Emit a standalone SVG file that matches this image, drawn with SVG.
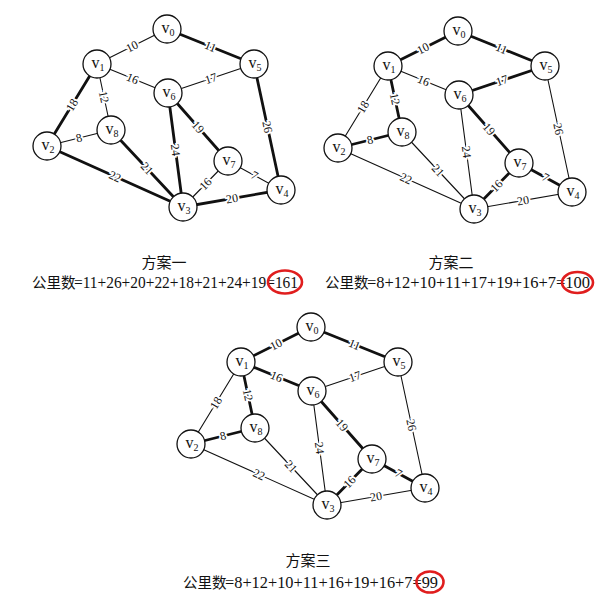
<svg xmlns="http://www.w3.org/2000/svg" width="608" height="602" viewBox="0 0 608 602">
<style>
.bg{fill:#fff}
.e{stroke:#111;fill:none;stroke-linecap:round}
.thin{stroke-width:1.1}
.thick{stroke-width:2.8}
.el{font-family:"Liberation Serif",serif;font-size:12px;fill:#111;stroke:#fff;stroke-width:3.5;paint-order:stroke;text-anchor:middle;dominant-baseline:central}
.node circle{fill:#fff;stroke:#111;stroke-width:1.3}
.node text{font-family:"Liberation Serif",serif;font-size:16px;fill:#111;text-anchor:middle}
.sub{font-size:10px}
.cap{font-family:"Liberation Serif","Noto Sans CJK SC",serif;fill:#111}
.t1{font-size:15px;text-anchor:middle}
.cj{font-size:14.5px}
.t2{font-size:16px}
.ring{fill:none;stroke:#e01e1e;stroke-width:2.6}
</style>
<rect class="bg" x="0" y="0" width="608" height="602"/>

<!-- ===== Graph 1 ===== -->
<g id="graph1">
<g id="g1-edges">
<line class="e thin" x1="167" y1="29" x2="97" y2="64"/>
<line class="e thick" x1="167" y1="29" x2="254" y2="64"/>
<line class="e thin" x1="97" y1="64" x2="168" y2="93"/>
<line class="e thin" x1="168" y1="93" x2="254" y2="64"/>
<line class="e thick" x1="97" y1="64" x2="47" y2="146"/>
<line class="e thin" x1="97" y1="64" x2="111" y2="130"/>
<line class="e thin" x1="47" y1="146" x2="111" y2="130"/>
<line class="e thick" x1="47" y1="146" x2="183" y2="207"/>
<line class="e thick" x1="111" y1="130" x2="183" y2="207"/>
<line class="e thick" x1="168" y1="93" x2="183" y2="207"/>
<line class="e thick" x1="168" y1="93" x2="228" y2="161"/>
<line class="e thick" x1="254" y1="64" x2="281" y2="190"/>
<line class="e thin" x1="228" y1="161" x2="281" y2="190"/>
<line class="e thin" x1="228" y1="161" x2="183" y2="207"/>
<line class="e thick" x1="183" y1="207" x2="281" y2="190"/>
<text class="el" transform="translate(132,46.5) rotate(-26.6)">10</text>
<text class="el" transform="translate(210.5,46.5) rotate(21.9)">11</text>
<text class="el" transform="translate(132.5,78.5) rotate(22.2)">16</text>
<text class="el" transform="translate(211,78.5) rotate(-18.6)">17</text>
<text class="el" transform="translate(72,105) rotate(-58.6)">18</text>
<text class="el" transform="translate(104,97) rotate(78)">12</text>
<text class="el" transform="translate(79,138) rotate(-14)">8</text>
<text class="el" transform="translate(115,176.5) rotate(24.2)">22</text>
<text class="el" transform="translate(147,168.5) rotate(46.9)">21</text>
<text class="el" transform="translate(175.5,150) rotate(82.5)">24</text>
<text class="el" transform="translate(198,127) rotate(48.6)">19</text>
<text class="el" transform="translate(267.5,127) rotate(77.9)">26</text>
<text class="el" transform="translate(254.5,175.5) rotate(28.7)">7</text>
<text class="el" transform="translate(205.5,184) rotate(-45.6)">16</text>
<text class="el" transform="translate(232,198.5) rotate(-9.8)">20</text>
</g>
<g id="g1-v0" class="node"><circle cx="167" cy="29" r="14"/><text x="168" y="33">v<tspan class="sub" dy="2.5">0</tspan></text></g>
<g id="g1-v1" class="node"><circle cx="97" cy="64" r="14"/><text x="98" y="68">v<tspan class="sub" dy="2.5">1</tspan></text></g>
<g id="g1-v5" class="node"><circle cx="254" cy="64" r="14"/><text x="255" y="68">v<tspan class="sub" dy="2.5">5</tspan></text></g>
<g id="g1-v6" class="node"><circle cx="168" cy="93" r="14"/><text x="169" y="97">v<tspan class="sub" dy="2.5">6</tspan></text></g>
<g id="g1-v8" class="node"><circle cx="111" cy="130" r="14"/><text x="112" y="134">v<tspan class="sub" dy="2.5">8</tspan></text></g>
<g id="g1-v2" class="node"><circle cx="47" cy="146" r="14"/><text x="48" y="150">v<tspan class="sub" dy="2.5">2</tspan></text></g>
<g id="g1-v7" class="node"><circle cx="228" cy="161" r="14"/><text x="229" y="165">v<tspan class="sub" dy="2.5">7</tspan></text></g>
<g id="g1-v4" class="node"><circle cx="281" cy="190" r="14"/><text x="282" y="194">v<tspan class="sub" dy="2.5">4</tspan></text></g>
<g id="g1-v3" class="node"><circle cx="183" cy="207" r="14"/><text x="184" y="211">v<tspan class="sub" dy="2.5">3</tspan></text></g>
<text class="cap t1" x="164" y="268">方案一</text>
<text class="cap cj" x="32" y="288">公里数</text>
<text class="cap t2" x="74" y="288" textLength="224" lengthAdjust="spacingAndGlyphs">=11+26+20+22+18+21+24+19=161</text>
<ellipse class="ring" cx="285" cy="282" rx="17" ry="11.5"/>
</g>

<!-- ===== Graph 2 ===== -->
<g id="graph2" transform="translate(291,2)">
<g id="g2-edges">
<line class="e thick" x1="167" y1="29" x2="97" y2="64"/>
<line class="e thick" x1="167" y1="29" x2="254" y2="64"/>
<line class="e thin" x1="97" y1="64" x2="168" y2="93"/>
<line class="e thick" x1="168" y1="93" x2="254" y2="64"/>
<line class="e thin" x1="97" y1="64" x2="47" y2="146"/>
<line class="e thick" x1="97" y1="64" x2="111" y2="130"/>
<line class="e thick" x1="47" y1="146" x2="111" y2="130"/>
<line class="e thin" x1="47" y1="146" x2="183" y2="207"/>
<line class="e thin" x1="111" y1="130" x2="183" y2="207"/>
<line class="e thin" x1="168" y1="93" x2="183" y2="207"/>
<line class="e thick" x1="168" y1="93" x2="228" y2="161"/>
<line class="e thin" x1="254" y1="64" x2="281" y2="190"/>
<line class="e thick" x1="228" y1="161" x2="281" y2="190"/>
<line class="e thick" x1="228" y1="161" x2="183" y2="207"/>
<line class="e thin" x1="183" y1="207" x2="281" y2="190"/>
<text class="el" transform="translate(132,46.5) rotate(-26.6)">10</text>
<text class="el" transform="translate(210.5,46.5) rotate(21.9)">11</text>
<text class="el" transform="translate(132.5,78.5) rotate(22.2)">16</text>
<text class="el" transform="translate(211,78.5) rotate(-18.6)">17</text>
<text class="el" transform="translate(72,105) rotate(-58.6)">18</text>
<text class="el" transform="translate(104,97) rotate(78)">12</text>
<text class="el" transform="translate(79,138) rotate(-14)">8</text>
<text class="el" transform="translate(115,176.5) rotate(24.2)">22</text>
<text class="el" transform="translate(147,168.5) rotate(46.9)">21</text>
<text class="el" transform="translate(175.5,150) rotate(82.5)">24</text>
<text class="el" transform="translate(198,127) rotate(48.6)">19</text>
<text class="el" transform="translate(267.5,127) rotate(77.9)">26</text>
<text class="el" transform="translate(254.5,175.5) rotate(28.7)">7</text>
<text class="el" transform="translate(205.5,184) rotate(-45.6)">16</text>
<text class="el" transform="translate(232,198.5) rotate(-9.8)">20</text>
</g>
<g id="g2-v0" class="node"><circle cx="167" cy="29" r="14"/><text x="168" y="33">v<tspan class="sub" dy="2.5">0</tspan></text></g>
<g id="g2-v1" class="node"><circle cx="97" cy="64" r="14"/><text x="98" y="68">v<tspan class="sub" dy="2.5">1</tspan></text></g>
<g id="g2-v5" class="node"><circle cx="254" cy="64" r="14"/><text x="255" y="68">v<tspan class="sub" dy="2.5">5</tspan></text></g>
<g id="g2-v6" class="node"><circle cx="168" cy="93" r="14"/><text x="169" y="97">v<tspan class="sub" dy="2.5">6</tspan></text></g>
<g id="g2-v8" class="node"><circle cx="111" cy="130" r="14"/><text x="112" y="134">v<tspan class="sub" dy="2.5">8</tspan></text></g>
<g id="g2-v2" class="node"><circle cx="47" cy="146" r="14"/><text x="48" y="150">v<tspan class="sub" dy="2.5">2</tspan></text></g>
<g id="g2-v7" class="node"><circle cx="228" cy="161" r="14"/><text x="229" y="165">v<tspan class="sub" dy="2.5">7</tspan></text></g>
<g id="g2-v4" class="node"><circle cx="281" cy="190" r="14"/><text x="282" y="194">v<tspan class="sub" dy="2.5">4</tspan></text></g>
<g id="g2-v3" class="node"><circle cx="183" cy="207" r="14"/><text x="184" y="211">v<tspan class="sub" dy="2.5">3</tspan></text></g>
<text class="cap t1" x="160" y="266">方案二</text>
<text class="cap cj" x="34" y="286">公里数</text>
<text class="cap t2" x="76" y="286" textLength="223" lengthAdjust="spacingAndGlyphs">=8+12+10+11+17+19+16+7=100</text>
<ellipse class="ring" cx="286.5" cy="280.5" rx="15.5" ry="10.5"/>
</g>

<!-- ===== Graph 3 ===== -->
<g id="graph3" transform="translate(144,298)">
<g id="g3-edges">
<line class="e thick" x1="167" y1="29" x2="97" y2="64"/>
<line class="e thick" x1="167" y1="29" x2="254" y2="64"/>
<line class="e thick" x1="97" y1="64" x2="168" y2="93"/>
<line class="e thin" x1="168" y1="93" x2="254" y2="64"/>
<line class="e thin" x1="97" y1="64" x2="47" y2="146"/>
<line class="e thick" x1="97" y1="64" x2="111" y2="130"/>
<line class="e thick" x1="47" y1="146" x2="111" y2="130"/>
<line class="e thin" x1="47" y1="146" x2="183" y2="207"/>
<line class="e thin" x1="111" y1="130" x2="183" y2="207"/>
<line class="e thin" x1="168" y1="93" x2="183" y2="207"/>
<line class="e thick" x1="168" y1="93" x2="228" y2="161"/>
<line class="e thin" x1="254" y1="64" x2="281" y2="190"/>
<line class="e thick" x1="228" y1="161" x2="281" y2="190"/>
<line class="e thick" x1="228" y1="161" x2="183" y2="207"/>
<line class="e thin" x1="183" y1="207" x2="281" y2="190"/>
<text class="el" transform="translate(132,46.5) rotate(-26.6)">10</text>
<text class="el" transform="translate(210.5,46.5) rotate(21.9)">11</text>
<text class="el" transform="translate(132.5,78.5) rotate(22.2)">16</text>
<text class="el" transform="translate(211,78.5) rotate(-18.6)">17</text>
<text class="el" transform="translate(72,105) rotate(-58.6)">18</text>
<text class="el" transform="translate(104,97) rotate(78)">12</text>
<text class="el" transform="translate(79,138) rotate(-14)">8</text>
<text class="el" transform="translate(115,176.5) rotate(24.2)">22</text>
<text class="el" transform="translate(147,168.5) rotate(46.9)">21</text>
<text class="el" transform="translate(175.5,150) rotate(82.5)">24</text>
<text class="el" transform="translate(198,127) rotate(48.6)">19</text>
<text class="el" transform="translate(267.5,127) rotate(77.9)">26</text>
<text class="el" transform="translate(254.5,175.5) rotate(28.7)">7</text>
<text class="el" transform="translate(205.5,184) rotate(-45.6)">16</text>
<text class="el" transform="translate(232,198.5) rotate(-9.8)">20</text>
</g>
<g id="g3-v0" class="node"><circle cx="167" cy="29" r="14"/><text x="168" y="33">v<tspan class="sub" dy="2.5">0</tspan></text></g>
<g id="g3-v1" class="node"><circle cx="97" cy="64" r="14"/><text x="98" y="68">v<tspan class="sub" dy="2.5">1</tspan></text></g>
<g id="g3-v5" class="node"><circle cx="254" cy="64" r="14"/><text x="255" y="68">v<tspan class="sub" dy="2.5">5</tspan></text></g>
<g id="g3-v6" class="node"><circle cx="168" cy="93" r="14"/><text x="169" y="97">v<tspan class="sub" dy="2.5">6</tspan></text></g>
<g id="g3-v8" class="node"><circle cx="111" cy="130" r="14"/><text x="112" y="134">v<tspan class="sub" dy="2.5">8</tspan></text></g>
<g id="g3-v2" class="node"><circle cx="47" cy="146" r="14"/><text x="48" y="150">v<tspan class="sub" dy="2.5">2</tspan></text></g>
<g id="g3-v7" class="node"><circle cx="228" cy="161" r="14"/><text x="229" y="165">v<tspan class="sub" dy="2.5">7</tspan></text></g>
<g id="g3-v4" class="node"><circle cx="281" cy="190" r="14"/><text x="282" y="194">v<tspan class="sub" dy="2.5">4</tspan></text></g>
<g id="g3-v3" class="node"><circle cx="183" cy="207" r="14"/><text x="184" y="211">v<tspan class="sub" dy="2.5">3</tspan></text></g>
<text class="cap t1" x="164" y="268">方案三</text>
<text class="cap cj" x="39" y="290">公里数</text>
<text class="cap t2" x="81" y="290" textLength="213" lengthAdjust="spacingAndGlyphs">=8+12+10+11+16+19+16+7=99</text>
<ellipse class="ring" cx="286" cy="284" rx="13.5" ry="10.5"/>
</g>
</svg>
